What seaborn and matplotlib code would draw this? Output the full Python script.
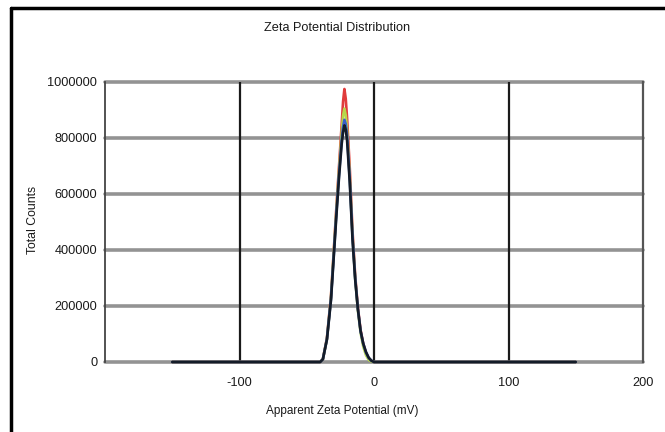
import matplotlib
matplotlib.use("Agg")
import matplotlib.pyplot as plt
from matplotlib.lines import Line2D
from matplotlib.ticker import MultipleLocator
import seaborn as sns
import pandas as pd

# ---- data ----
zeta_mv = [-150, -45, -40, -38, -35, -32, -30, -28, -26, -24, -23, -22, -21,
           -20, -18, -16, -14, -12, -10, -8, -6, -4, -2, 0, 150]
run_red = [0, 0, 0, 10000, 85000, 235000, 390000, 550000, 700000, 850000,
           930000, 975000, 940000, 870000, 690000, 470000, 310000, 195000,
           115000, 65000, 32000, 12000, 4000, 0, 0]
run_yellow = [0, 0, 0, 10000, 83000, 230000, 385000, 540000, 685000, 820000,
              880000, 905000, 880000, 830000, 660000, 455000, 300000, 185000,
              105000, 55000, 25000, 8000, 2000, 0, 0]
run_blue = [0, 0, 0, 10000, 82000, 225000, 375000, 530000, 670000, 795000,
            840000, 865000, 850000, 810000, 650000, 450000, 300000, 190000,
            110000, 65000, 35000, 15000, 5000, 0, 0]
run_navy = [0, 0, 0, 10000, 80000, 220000, 370000, 520000, 660000, 780000,
            820000, 845000, 830000, 790000, 640000, 440000, 295000, 190000,
            112000, 66000, 36000, 16000, 5000, 0, 0]
run_names = ["Record 1", "Record 2", "Record 3", "Record 4"]
run_colors = ["#e03c3c", "#b8d84a", "#3a5ec8", "#141c28"]

x_ticks = [-100, 0, 100, 200]
x_tick_labels = ["-100", "0", "100", "200"]
y_ticks = [0, 200000, 400000, 600000, 800000, 1000000]
y_tick_labels = ["0", "200000", "400000", "600000", "800000", "1000000"]

frames = []
for name, vals in zip(run_names, [run_red, run_yellow, run_blue, run_navy]):
    frames.append(pd.DataFrame({"zeta": zeta_mv, "counts": vals, "run": name}))
df = pd.concat(frames, ignore_index=True)

sns.set_style("white")
plt.rcParams["font.family"] = ["Liberation Sans", "DejaVu Sans"]

fig = plt.figure(figsize=(6.65, 4.32), dpi=100)
ax = fig.add_axes([105 / 665, 1 - 362 / 432, (643 - 105) / 665, (362 - 82) / 432])

sns.lineplot(data=df, x="zeta", y="counts", hue="run", palette=run_colors,
             hue_order=run_names, linewidth=1.9, legend=False, ax=ax,
             estimator=None, sort=False, clip_on=False, zorder=5)

ax.set_xlim(-200, 200)
ax.set_ylim(0, 1000000)
ax.set_xticks(x_ticks)
ax.set_xticklabels(x_tick_labels)
ax.set_yticks(y_ticks)
ax.set_yticklabels(y_tick_labels)
ax.xaxis.set_minor_locator(MultipleLocator(50))
ax.yaxis.set_minor_locator(MultipleLocator(100000))
ax.tick_params(axis="both", which="major", direction="inout", length=5,
               width=1.2, color="#333333", labelsize=9.2, labelcolor="#1a1a1a")
ax.tick_params(axis="x", which="major", pad=8)
ax.tick_params(axis="y", which="major", pad=3)
ax.tick_params(axis="both", which="minor", direction="inout", length=4,
               width=1.2, color="#333333")

# grid lines
for yv in y_ticks:
    ax.axhline(yv, color="#939393", lw=2.6, zorder=1, clip_on=False)
for xv in [-100, 0, 100]:
    ax.axvline(xv, color="#1a1a1a", lw=1.6, zorder=2)

for side in ["top", "bottom"]:
    ax.spines[side].set_visible(False)
ax.spines["left"].set_color("#444444")
ax.spines["left"].set_linewidth(1.3)
ax.spines["right"].set_color("#555555")
ax.spines["right"].set_linewidth(1.6)

ax.set_xlabel("")
ax.set_ylabel("")
fig.text(342 / 665, 1 - 411 / 432, "Apparent Zeta Potential (mV)",
         ha="center", va="center", fontsize=8.5, color="#1a1a1a")
fig.text(337 / 665, 1 - 28 / 432, "Zeta Potential Distribution",
         ha="center", va="center", fontsize=9.2, color="#1a1a1a")
fig.text(33 / 665, 1 - 220 / 432, "Total Counts", rotation=90,
         ha="center", va="center", fontsize=8.8, color="#1a1a1a")

# outer black frame (left and top edges)
fig.add_artist(Line2D([11 / 665, 11 / 665], [0, 1 - 8 / 432], color="black",
                      lw=2.5, transform=fig.transFigure))
fig.add_artist(Line2D([11 / 665, 1], [1 - 8 / 432, 1 - 8 / 432], color="black",
                      lw=2.5, transform=fig.transFigure))

fig.savefig("out.png", dpi=100)
